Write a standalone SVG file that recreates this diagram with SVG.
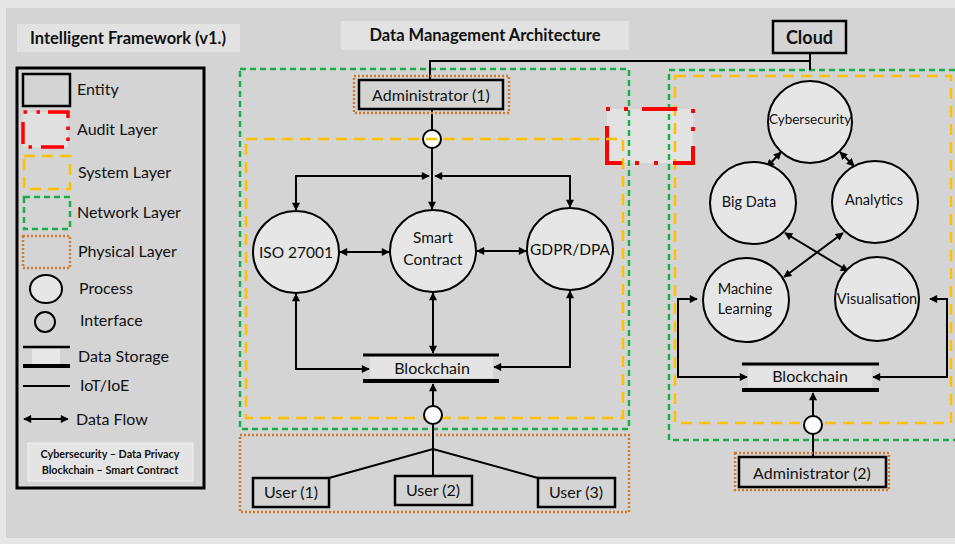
<svg xmlns="http://www.w3.org/2000/svg" width="955" height="544" viewBox="0 0 955 544">
<style>
text{font-family:Lato,"Liberation Sans",sans-serif;fill:#111}
.lbl{font-size:16px}
.c{text-anchor:middle}
.b{font-weight:bold}
.ent{fill:#d4d4d4;stroke:#000;stroke-width:2.5}
.proc{fill:#e6e6e6;stroke:#000;stroke-width:2}
.ifc{fill:#fff;stroke:#000;stroke-width:2}
.net{fill:none;stroke:#1aad4c;stroke-width:2.5;stroke-dasharray:6 4}
.sys{fill:none;stroke:#ffc000;stroke-width:2.5;stroke-dasharray:11 7}
.phy{fill:none;stroke:#d07a30;stroke-width:2.5;stroke-dasharray:2 2}
.aud{fill:none;stroke:#ff0000;stroke-width:4}
.aud2{fill:none;stroke:#ff0000;stroke-width:3.5}
.ln{fill:none;stroke:#000;stroke-width:2}
.fl{fill:none;stroke:#000;stroke-width:2;marker-start:url(#ah);marker-end:url(#ah)}
.fe{fill:none;stroke:#000;stroke-width:2;marker-end:url(#ah)}
.st{fill:#e4e4e4}
</style>
<defs>
<marker id="ah" viewBox="0 0 10 10" refX="9" refY="5" markerWidth="9" markerHeight="8" markerUnits="userSpaceOnUse" orient="auto-start-reverse"><path d="M0,0 L10,5 L0,10 z" fill="#000"/></marker>
</defs>
<rect x="0" y="0" width="955" height="544" fill="#e6e6e6"/>
<rect x="6" y="8" width="949" height="530" fill="#d4d4d4"/>

<g id="title-framework">
<rect x="17" y="24" width="223" height="28" fill="#e2e2e2"/>
<text x="128" y="44" class="c b" font-size="16.5">Intelligent Framework (v1.)</text>
</g>
<g id="title-dma">
<rect x="341" y="21" width="288" height="29" fill="#e2e2e2"/>
<text x="485" y="41" class="c b" font-size="16.5">Data Management Architecture</text>
</g>

<g id="legend">
<rect x="17" y="68" width="187" height="420" fill="none" stroke="#000" stroke-width="3"/>
<rect x="23" y="74" width="47" height="32" class="ent"/>
<text x="77" y="95" class="lbl">Entity</text>
<rect x="23" y="112" width="45" height="35" fill="#e0e0e0"/>
<path d="M23.5,112 h3.5 M36.5,112 h3.5 M48,112 H68 V118 M68,126.5 v3.5 M68,137.5 v3.5 M64,147 H41 M28.5,147 h3.5 M23,144 V122" class="aud2"/>
<text x="77" y="135" class="lbl">Audit Layer</text>
<rect x="24" y="156" width="46" height="33" class="sys" stroke-dasharray="8 5"/>
<text x="78" y="178" class="lbl">System Layer</text>
<rect x="24" y="197" width="46" height="32" class="net" stroke-dasharray="5 3"/>
<text x="77" y="218" class="lbl">Network Layer</text>
<rect x="23" y="236" width="47" height="32" class="phy"/>
<text x="78" y="257" class="lbl">Physical Layer</text>
<ellipse cx="46" cy="289" rx="16" ry="14" class="proc"/>
<text x="79" y="294" class="lbl">Process</text>
<circle cx="45" cy="322" r="10" fill="none" stroke="#000" stroke-width="2"/>
<text x="80" y="326" class="lbl">Interface</text>
<rect x="32" y="349" width="28" height="15" fill="#e8e8e8"/>
<line x1="23" y1="347" x2="70" y2="347" stroke="#000" stroke-width="2.5"/>
<line x1="23" y1="366" x2="70" y2="366" stroke="#000" stroke-width="4"/>
<text x="78" y="362" class="lbl">Data Storage</text>
<line x1="23" y1="386" x2="70" y2="386" stroke="#000" stroke-width="2"/>
<text x="80" y="391" class="lbl">IoT/IoE</text>
<line x1="24" y1="419" x2="68" y2="419" class="fl"/>
<text x="76" y="425" class="lbl">Data Flow</text>
<rect x="28" y="443" width="165" height="38" fill="#e4e4e4" stroke="#f0f0f0" stroke-width="1"/>
<text x="110" y="458" class="c b" font-size="10.8">Cybersecurity – Data Privacy</text>
<text x="110" y="474" class="c b" font-size="10.8">Blockchain – Smart Contract</text>
</g>

<g id="audit-layer-fill"><rect x="607" y="109" width="86" height="54" fill="#e2e2e2"/></g>

<g id="layers">
<rect x="240" y="69" width="389" height="360" class="net"/>
<rect x="240" y="435" width="389" height="77" class="phy"/>
<rect x="669" y="70" width="300" height="370" class="net"/>
<rect x="675" y="76" width="276" height="347" class="sys"/>
</g>

<g id="audit-layer">
<path d="M606,109 h4 M624,109 h4 M642,109 H677 M693,109 v4 M693,127 v4 M693,146 V163 H673 M658,163 h-4 M639,163 h-4 M622,163 H607 V126" class="aud"/>
</g>

<g id="connectors">
<path d="M430,80 V61 H810" class="ln"/>
<line x1="810" y1="53" x2="810" y2="70" class="ln"/>
<line x1="432" y1="109" x2="432" y2="130" class="ln"/>
<line x1="432" y1="148" x2="432" y2="209" class="fe"/>
<path d="M429,176 H296 V210" class="fl"/>
<path d="M435,176 H570 V207" class="fl"/>
<line x1="340" y1="252" x2="389" y2="252" class="fl"/>
<line x1="477" y1="251" x2="526" y2="251" class="fl"/>
<path d="M296,294 V369 H369" class="fl"/>
<line x1="433" y1="293" x2="433" y2="353" class="fl"/>
<path d="M570,291 V367 H494" class="fl"/>
<line x1="433" y1="406" x2="433" y2="384" class="fe"/>
<line x1="433" y1="424" x2="433" y2="449" class="ln"/>
<path d="M329,478 L433,449 L538,478 M433,449 V476" class="ln"/>
<line x1="781" y1="152" x2="767" y2="167" class="fl"/>
<line x1="840" y1="152" x2="854" y2="166" class="fl"/>
<line x1="785" y1="233" x2="848" y2="271" class="fl"/>
<line x1="843" y1="233" x2="784" y2="277" class="fl"/>
<path d="M697,299 H678 V377 H747" class="fl"/>
<path d="M930,299 H947 V377 H873" class="fl"/>
<line x1="813" y1="416" x2="813" y2="393" class="fe"/>
<line x1="813" y1="434" x2="813" y2="457" class="ln"/>
</g>

<g id="cloud">
<rect x="773" y="21" width="73" height="32" class="ent"/>
<text x="809.5" y="44" class="c b" font-size="18">Cloud</text>
</g>
<g id="admin1">
<rect x="354" y="76" width="155" height="37" class="phy"/>
<rect x="359" y="80" width="144" height="29" class="ent"/>
<text x="431" y="101" class="c lbl">Administrator (1)</text>
</g>
<g id="interface1"><circle cx="432" cy="139" r="9" class="ifc"/></g>
<g id="system-layer-left"><rect x="246" y="139" width="377" height="279" class="sys"/></g>
<g id="iso"><ellipse cx="296" cy="252" rx="43" ry="41" class="proc"/><text x="296" y="258" class="c" font-size="15.5">ISO 27001</text></g>
<g id="smart-contract"><ellipse cx="433" cy="251" rx="43" ry="41" class="proc"/><text x="433" y="243" class="c" font-size="15.5">Smart</text><text x="433" y="265" class="c" font-size="15.5">Contract</text></g>
<g id="gdpr"><ellipse cx="570" cy="249" rx="43" ry="41" class="proc"/><text x="570" y="255" class="c" font-size="15.5">GDPR/DPA</text></g>
<g id="blockchain1">
<rect x="370" y="357" width="123" height="21" class="st"/>
<line x1="363" y1="355" x2="499" y2="355" stroke="#000" stroke-width="3"/>
<line x1="363" y1="381" x2="499" y2="381" stroke="#000" stroke-width="4"/>
<text x="432" y="374" class="c lbl">Blockchain</text>
</g>
<g id="interface2"><circle cx="433" cy="415" r="9" class="ifc"/></g>
<g id="user1"><rect x="253" y="478" width="76" height="29" class="ent"/><text x="291" y="498" class="c lbl">User (1)</text></g>
<g id="user2"><rect x="395" y="476" width="77" height="29" class="ent"/><text x="433" y="496" class="c lbl">User (2)</text></g>
<g id="user3"><rect x="538" y="478" width="77" height="29" class="ent"/><text x="576" y="498" class="c lbl">User (3)</text></g>

<g id="cybersecurity"><ellipse cx="810" cy="122" rx="42" ry="41" class="proc"/><text x="810" y="124" class="c" font-size="13.5">Cybersecurity</text></g>
<g id="big-data"><ellipse cx="753" cy="203" rx="43" ry="41" class="proc"/><text x="749" y="207" class="c" font-size="14.5">Big Data</text></g>
<g id="analytics"><ellipse cx="875" cy="202" rx="43" ry="41" class="proc"/><text x="874" y="205" class="c" font-size="14.5">Analytics</text></g>
<g id="machine-learning"><ellipse cx="746" cy="300" rx="43" ry="42" class="proc"/><text x="745" y="294" class="c" font-size="14.5">Machine</text><text x="745" y="314" class="c" font-size="14.5">Learning</text></g>
<g id="visualisation"><ellipse cx="877" cy="299" rx="42" ry="42" class="proc"/><text x="877" y="304" class="c" font-size="14.5">Visualisation</text></g>
<g id="blockchain2">
<rect x="748" y="367" width="124" height="20" class="st"/>
<line x1="742" y1="364" x2="879" y2="364" stroke="#000" stroke-width="3"/>
<line x1="742" y1="390" x2="879" y2="390" stroke="#000" stroke-width="4"/>
<text x="810" y="382" class="c lbl">Blockchain</text>
</g>
<g id="interface3"><circle cx="813" cy="425" r="9" class="ifc"/></g>
<g id="admin2">
<rect x="735" y="453" width="154" height="37" class="phy"/>
<rect x="739" y="457" width="147" height="30" class="ent"/>
<text x="812" y="479" class="c lbl">Administrator (2)</text>
</g>
</svg>
